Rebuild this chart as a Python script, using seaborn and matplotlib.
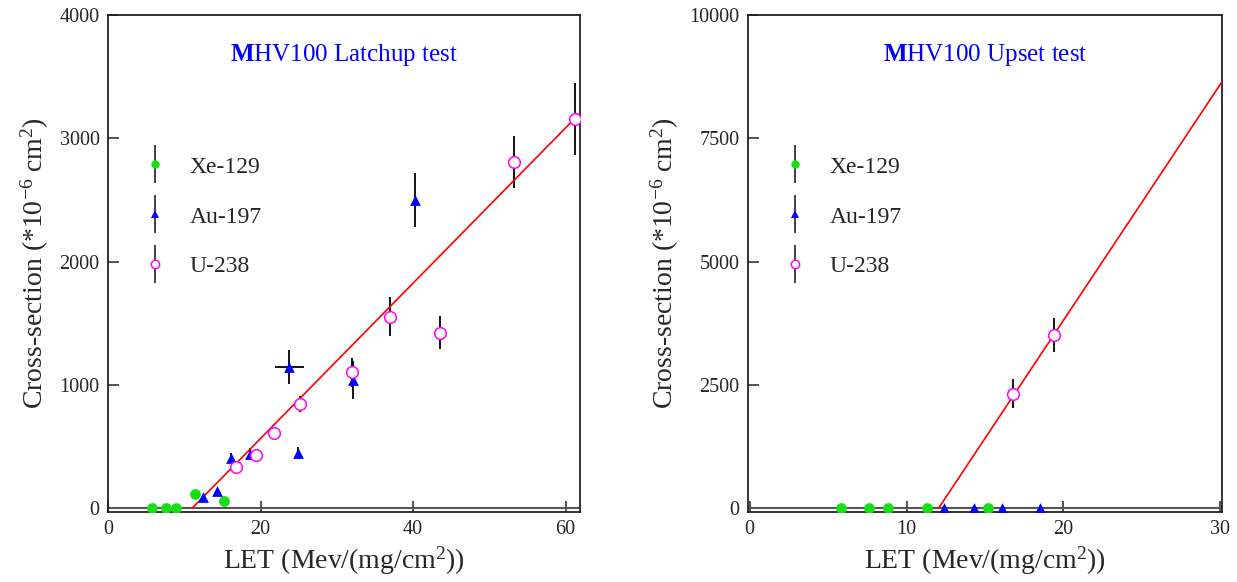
import numpy as np
import pandas as pd
import matplotlib
matplotlib.use("Agg")
import matplotlib.pyplot as plt
import seaborn as sns
from matplotlib.lines import Line2D
from matplotlib.legend_handler import HandlerTuple

# ---------------- data: latchup ----------------
lat_xe_let = [5.8, 7.6, 8.9, 11.4, 15.2]
lat_xe_cs = [0, 0, 0, 116, 57]
lat_xe_err = [0, 0, 0, 0, 0]

lat_au_let = [12.5, 14.3, 16.1, 18.6, 23.8, 24.9, 32.1, 40.3]
lat_au_cs = [90, 138, 408, 438, 1147, 449, 1038, 2499]
lat_au_err = [0, 0, 35, 50, 137, 47, 153, 220]
lat_au_xerr = [0, 0, 0, 0, 1.95, 0, 0, 0]

lat_u_let = [16.8, 19.4, 21.8, 25.2, 32.0, 37.0, 43.6, 53.2, 61.3]
lat_u_cs = [333, 432, 611, 841, 1101, 1552, 1423, 2805, 3156]
lat_u_err = [0, 30, 0, 65, 120, 160, 135, 210, 290]

lat_fit_threshold = 11.05
lat_fit_slope = 63.0
lat_fit_xmax = 62.0

# ---------------- data: upset ----------------
ups_xe_let = [5.8, 7.6, 8.8, 11.3, 15.2]
ups_xe_cs = [0, 0, 0, 0, 0]
ups_xe_err = [0, 0, 0, 0, 0]

ups_au_let = [12.4, 14.3, 16.1, 18.5]
ups_au_cs = [0, 0, 0, 0]
ups_au_err = [0, 0, 0, 0]

ups_u_let = [16.8, 19.4]
ups_u_cs = [2320, 3516]
ups_u_err = [290, 345]

ups_fit_threshold = 12.05
ups_fit_slope = 479.0
ups_fit_xmax = 30.1

labels = ["Xe-129", "Au-197", "U-238"]

GREEN = "#14e014"
BLUE = "#0000ff"
MAGENTA = "#ff00ff"

sns.set_theme(style="ticks")
plt.rcParams["font.family"] = ["Liberation Serif", "DejaVu Serif"]
plt.rcParams["mathtext.fontset"] = "custom"
plt.rcParams["mathtext.rm"] = "Liberation Serif"
plt.rcParams["mathtext.it"] = "Liberation Serif:italic"
plt.rcParams["mathtext.bf"] = "Liberation Serif:bold"

fig = plt.figure(figsize=(12.37, 5.82), dpi=100)
ax1 = fig.add_axes([108 / 1237, 70 / 582, 472 / 1237, 497 / 582])
ax2 = fig.add_axes([748 / 1237, 70 / 582, 474 / 1237, 497 / 582])


def draw_panel(ax, xe, au, u, fit, xlim, ylim, xticks, yticks, title):
    ax.axhline(0, color="#555555", lw=1.5, zorder=1)
    # error bars
    for (xs, ys, es, xes) in [(xe[0], xe[1], xe[2], None), (au[0], au[1], au[2], au[3]), (u[0], u[1], u[2], None)]:
        ax.errorbar(xs, ys, yerr=es, xerr=xes, fmt="none", ecolor="black", elinewidth=1.3, capsize=0, zorder=2)
    # fit line
    thr, slope, xmax = fit
    fx = np.array([thr, xmax])
    fdf = pd.DataFrame({"x": fx, "y": slope * (fx - thr)})
    sns.lineplot(data=fdf, x="x", y="y", ax=ax, color="red", lw=1.2, zorder=3)
    # markers
    sns.scatterplot(x=xe[0], y=xe[1], ax=ax, marker="o", s=60, color=GREEN, edgecolor=GREEN, linewidth=0, zorder=4)
    sns.scatterplot(x=au[0], y=au[1], ax=ax, marker="^", s=60, color=BLUE, edgecolor=BLUE, linewidth=0, zorder=4)
    sns.scatterplot(x=u[0], y=u[1], ax=ax, marker="o", s=70, facecolor="white", edgecolor=MAGENTA, linewidth=1.1, zorder=5)

    ax.set_xlim(*xlim)
    ax.set_ylim(*ylim)
    ax.set_xticks(xticks)
    ax.set_yticks(yticks)
    ax.tick_params(direction="in", length=8, width=1.2, labelsize=14.5, color="#333333", pad=6)
    for s in ax.spines.values():
        s.set_visible(True)
        s.set_linewidth(1.3)
        s.set_color("#222222")
    ax.set_xlabel("LET (Mev/(mg/cm$^{2}$))", fontsize=20, labelpad=4)
    ax.set_ylabel("Cross-section (*10$^{-6}$ cm$^{2}$)", fontsize=20, labelpad=6)
    ax.text(0.5, 0.92, title, transform=ax.transAxes, ha="center", va="center", fontsize=18, color=BLUE)

    bar = Line2D([], [], ls="none", marker="|", markersize=28, markeredgewidth=1.3, color="#333333")
    h_xe = Line2D([], [], ls="none", marker="o", markersize=6, color=GREEN, markeredgewidth=0)
    h_au = Line2D([], [], ls="none", marker="^", markersize=6, color=BLUE, markeredgewidth=0)
    h_u = Line2D([], [], ls="none", marker="o", markersize=6, markerfacecolor="white", markeredgecolor=MAGENTA, markeredgewidth=1)
    ax.legend([(bar, h_xe), (bar, h_au), (bar, h_u)], labels,
              handler_map={tuple: HandlerTuple(ndivide=1, pad=0)},
              loc="upper left", bbox_to_anchor=(0.055, 0.735), frameon=False,
              fontsize=17, labelspacing=1.2, handlelength=1.0, handletextpad=0.95,
              borderaxespad=0)


draw_panel(ax1,
           (lat_xe_let, lat_xe_cs, lat_xe_err),
           (lat_au_let, lat_au_cs, lat_au_err, lat_au_xerr),
           (lat_u_let, lat_u_cs, lat_u_err),
           (lat_fit_threshold, lat_fit_slope, lat_fit_xmax),
           (0, 61.9), (-32, 4000), [0, 20, 40, 60], [0, 1000, 2000, 3000, 4000],
           r"$\mathbf{M}$HV100 Latchup test")

draw_panel(ax2,
           (ups_xe_let, ups_xe_cs, ups_xe_err),
           (ups_au_let, ups_au_cs, ups_au_err, None),
           (ups_u_let, ups_u_cs, ups_u_err),
           (ups_fit_threshold, ups_fit_slope, ups_fit_xmax),
           (-0.1, 30.1), (-80, 10000), [0, 10, 20, 30], [0, 2500, 5000, 7500, 10000],
           r"$\mathbf{M}$HV100 Upset test")

fig.savefig("out.png", dpi=100)
